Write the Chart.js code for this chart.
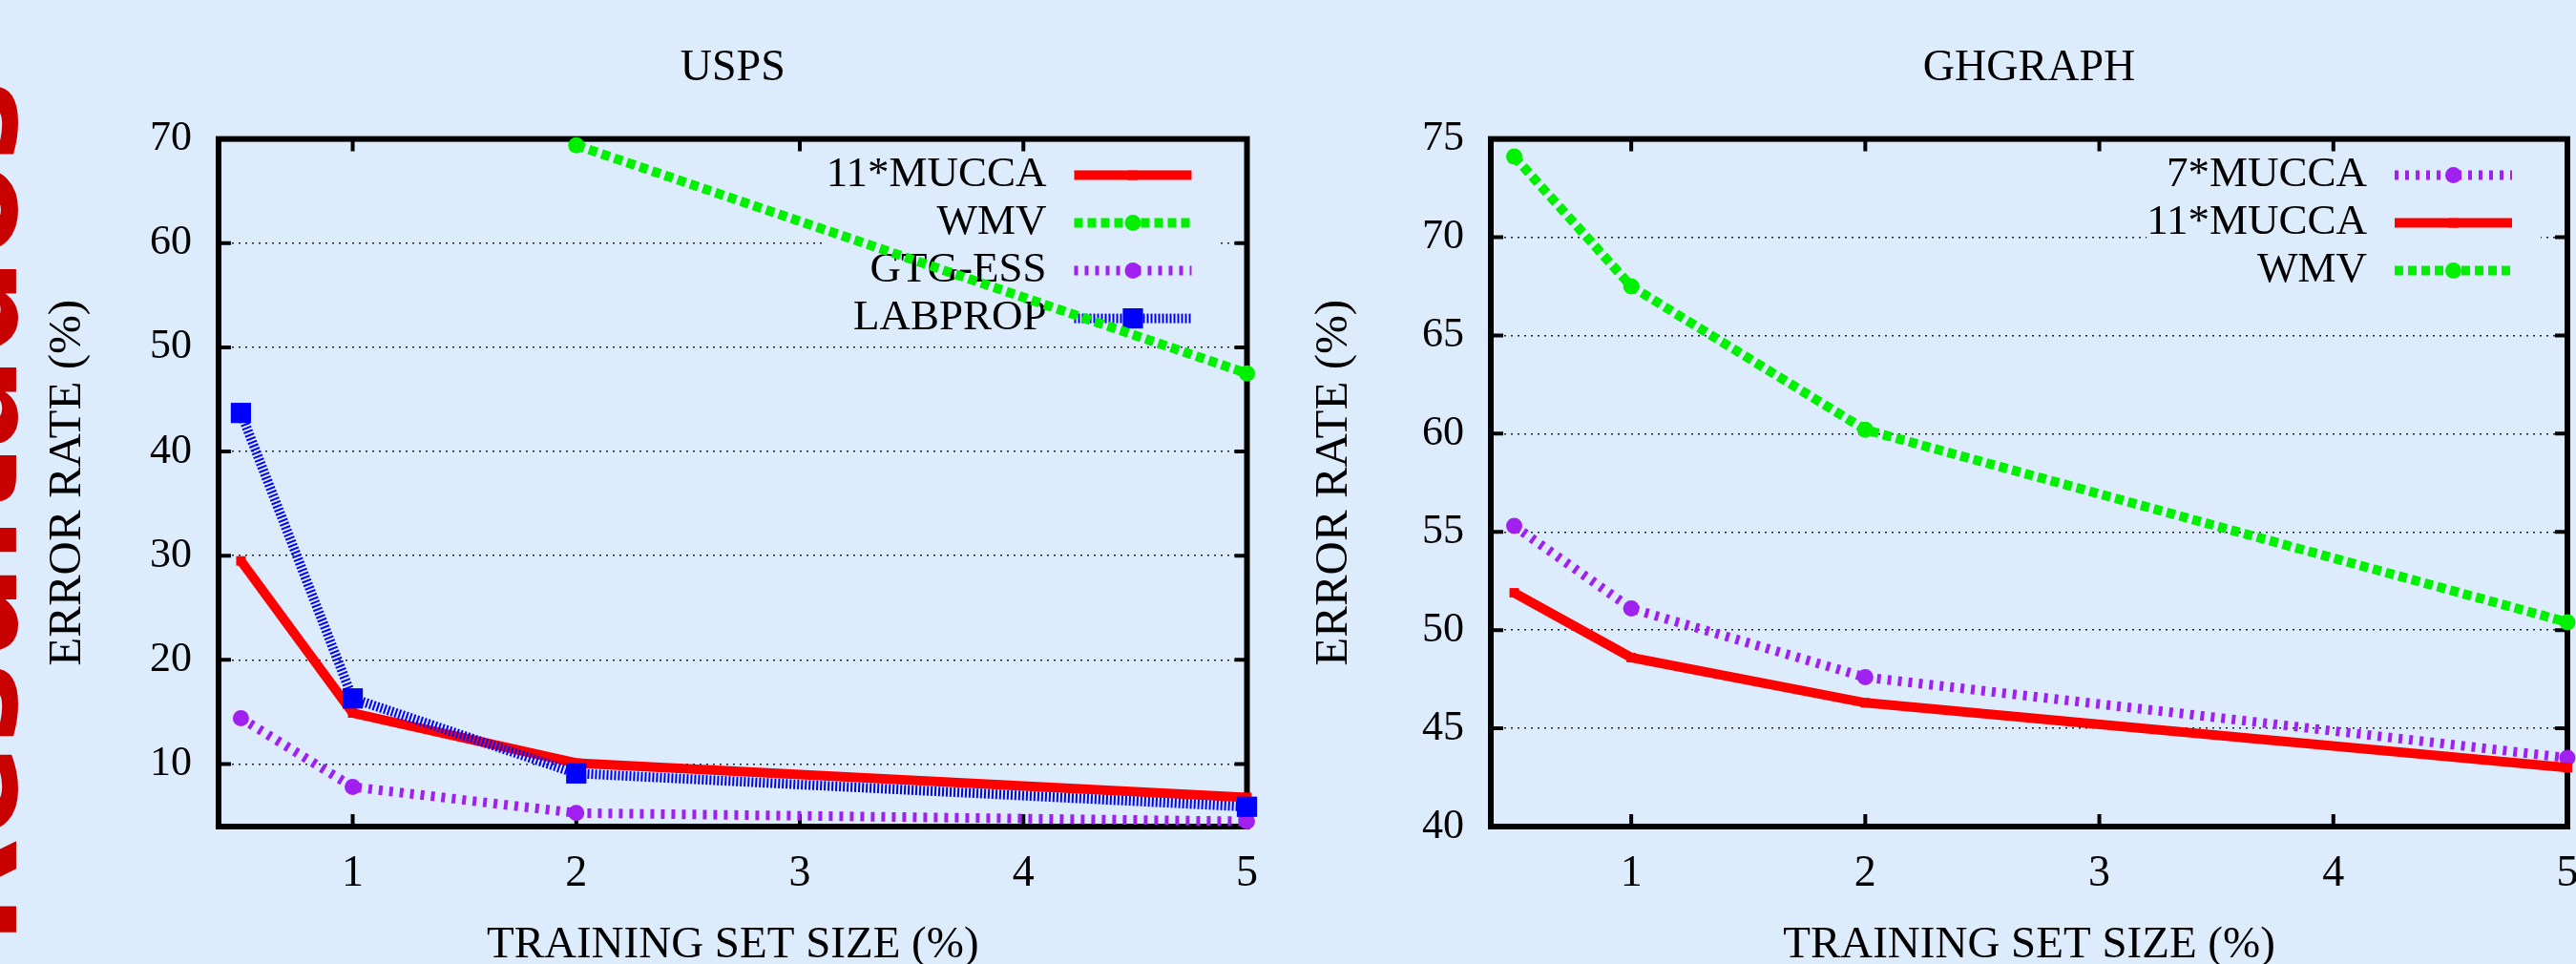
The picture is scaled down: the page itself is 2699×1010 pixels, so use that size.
<!DOCTYPE html>
<html>
<head>
<meta charset="utf-8">
<script src="https://cdn.jsdelivr.net/npm/chart.js@4.4.1/dist/chart.umd.min.js"></script>
<style>
  html, body { margin: 0; padding: 0; width: 2699px; height: 1010px; overflow: hidden; background: #dcecfc; }
  #side { position: absolute; left: -118px; top: 990px; transform-origin: 0 0; transform: rotate(-90deg);
          white-space: nowrap; line-height: 1; font: bold 145px "DejaVu Sans"; color: #c80000; }
  #boxL { position: absolute; left: 0; top: 0; }
  #boxR { position: absolute; left: 1340px; top: 0; }
</style>
</head>
<body>
<div id="side">Resultados</div>
<div id="boxL"><canvas id="usps" width="1340" height="1010"></canvas></div>
<div id="boxR"><canvas id="ghgraph" width="1420" height="1010"></canvas></div>
<script>
// training set sizes (%) where every method was measured
const xValues = [0.5, 1, 2, 5];
const xTickValues = [1, 2, 3, 4, 5];

// USPS error rates (%)
const uspsTickValues = [10, 20, 30, 40, 50, 60, 70];
const uspsMucca11 = [29.5, 14.9, 10.1, 6.8];
const uspsWmv = [null, null, 69.4, 47.5];
const uspsGtgEss = [14.4, 7.8, 5.3, 4.5];
const uspsLabprop = [43.7, 16.3, 9.1, 5.9];

// GHGRAPH error rates (%)
const ghTickValues = [40, 45, 50, 55, 60, 65, 70, 75];
const ghMucca7 = [55.3, 51.1, 47.6, 43.5];
const ghMucca11 = [51.9, 48.6, 46.3, 43.0];
const ghWmv = [74.1, 67.5, 60.2, 50.4];

const BG = '#dcecfc';
const SERIF = 'Liberation Serif';

const styles = {
  red:    { color: '#ff0000', dash: [],     point: 'rect',   radius: 7 },
  green:  { color: '#00f000', dash: [9, 5], point: 'circle', radius: 8.5 },
  purple: { color: '#a020f0', dash: [4, 7], point: 'circle', radius: 8.5 },
  blue:   { color: '#0000ff', dash: [2, 2], point: 'rect',   radius: 15 }
};

function series(label, values, st, i) {
  return {
    label,
    data: values.map((v, k) => ({ x: xValues[k], y: v })),
    borderColor: st.color,
    backgroundColor: st.color,
    borderWidth: 10,
    borderDash: st.dash,
    pointStyle: st.point,
    pointRadius: st.radius,
    pointBackgroundColor: st.color,
    pointBorderColor: st.color,
    pointBorderWidth: 0,
    tension: 0,
    clip: false,
    order: -i
  };
}

// gnuplot-like frame, inward ticks and opaque key (drawn under the curves)
const gnuplotLook = {
  id: 'gnuplotLook',
  beforeDatasetsDraw(chart, args, opts) {
    const { ctx, chartArea: a } = chart;
    const xs = chart.scales.x, ys = chart.scales.y;
    const sets = chart.data.datasets;
    ctx.save();

    ctx.font = '45px "' + SERIF + '"';
    const textRight = a.right - opts.textInset;
    const rowY = i => a.top + opts.firstRow + i * opts.rowStep;
    const widest = Math.max(...sets.map(d => ctx.measureText(d.label).width));
    ctx.fillStyle = BG;
    ctx.fillRect(textRight - widest, rowY(0) - opts.rowStep / 2,
                 (a.right - 28) - (textRight - widest), sets.length * opts.rowStep);

    ctx.strokeStyle = '#000';
    ctx.lineWidth = 6;
    ctx.strokeRect(a.left, a.top, a.right - a.left, a.bottom - a.top);
    ctx.lineWidth = 4;
    ctx.beginPath();
    xs.ticks.forEach(t => {
      const px = xs.getPixelForValue(t.value);
      ctx.moveTo(px, a.bottom); ctx.lineTo(px, a.bottom - 13);
      ctx.moveTo(px, a.top); ctx.lineTo(px, a.top + 13);
    });
    ys.ticks.forEach(t => {
      const py = ys.getPixelForValue(t.value);
      ctx.moveTo(a.left, py); ctx.lineTo(a.left + 13, py);
      ctx.moveTo(a.right, py); ctx.lineTo(a.right - 13, py);
    });
    ctx.stroke();

    sets.forEach((d, i) => {
      const y = rowY(i);
      ctx.fillStyle = '#000';
      ctx.textAlign = 'right';
      ctx.textBaseline = 'middle';
      ctx.fillText(d.label, textRight, y);
      const x1 = a.right - opts.sampleFrom, x2 = a.right - opts.sampleTo;
      ctx.setLineDash(d.borderDash);
      ctx.lineWidth = d.borderWidth;
      ctx.strokeStyle = d.borderColor;
      ctx.beginPath(); ctx.moveTo(x1, y); ctx.lineTo(x2, y); ctx.stroke();
      ctx.setLineDash([]);
      ctx.fillStyle = d.pointBackgroundColor;
      Chart.helpers.drawPoint(ctx, { pointStyle: d.pointStyle, radius: d.pointRadius, borderWidth: 0, rotation: 0 }, (x1 + x2) / 2, y);
    });
    ctx.restore();
  }
};

function makeChart(id, title, datasets, yMin, yMax, yTicks, lay) {
  return new Chart(document.getElementById(id), {
    type: 'line',
    data: { datasets },
    options: {
      responsive: false,
      animation: false,
      layout: { padding: { left: 0, top: 0, bottom: 0, right: lay.padRight } },
      plugins: {
        legend: { display: false },
        tooltip: { enabled: false },
        title: {
          display: true, text: title, color: '#000', fullSize: false,
          font: { family: SERIF, size: 46, weight: 'normal', lineHeight: 1.2 },
          padding: { top: 44, bottom: 46.4 }
        },
        gnuplotLook: { textInset: 210, sampleFrom: 181, sampleTo: 58, firstRow: 38, rowStep: 50 }
      },
      scales: {
        x: {
          type: 'linear', position: 'bottom', min: 0.4, max: 5,
          afterBuildTicks: s => { s.ticks = xTickValues.map(v => ({ value: v })); },
          afterFit: s => { s.height = 144; },
          grid: { display: false, drawTicks: false },
          border: { display: false },
          ticks: { color: '#000', padding: 22, font: { family: SERIF, size: 46 } },
          title: {
            display: true, text: 'TRAINING SET SIZE (%)', color: '#000',
            font: { family: SERIF, size: 47, lineHeight: 1 }, padding: { top: 0, bottom: -4 }
          }
        },
        y: {
          type: 'linear', position: 'left', min: yMin, max: yMax,
          afterBuildTicks: s => { s.ticks = yTicks.map(v => ({ value: v })); },
          afterFit: s => { s.width = lay.yWidth; },
          grid: { color: 'rgba(0,0,0,0.85)', lineWidth: 1.5, drawTicks: false },
          border: { display: false, dash: [2, 5] },
          ticks: { color: '#000', padding: 28, font: { family: SERIF, size: 44 } },
          title: {
            display: true, text: 'ERROR RATE (%)', color: '#000',
            font: { family: SERIF, size: 49, lineHeight: 1.2 }, padding: { top: lay.yTitlePad, bottom: 0 }
          }
        }
      }
    },
    plugins: [gnuplotLook]
  });
}

makeChart('usps', 'USPS', [
  series('11*MUCCA', uspsMucca11, styles.red, 0),
  series('WMV', uspsWmv, styles.green, 1),
  series('GTG-ESS', uspsGtgEss, styles.purple, 2),
  series('LABPROP', uspsLabprop, styles.blue, 3)
], 4, 70, uspsTickValues, { padRight: 28, yWidth: 229, yTitlePad: 42 });

makeChart('ghgraph', 'GHGRAPH', [
  series('7*MUCCA', ghMucca7, styles.purple, 0),
  series('11*MUCCA', ghMucca11, styles.red, 1),
  series('WMV', ghWmv, styles.green, 2)
], 40, 75, ghTickValues, { padRight: 70, yWidth: 222, yTitlePad: 29 });
</script>
</body>
</html>
